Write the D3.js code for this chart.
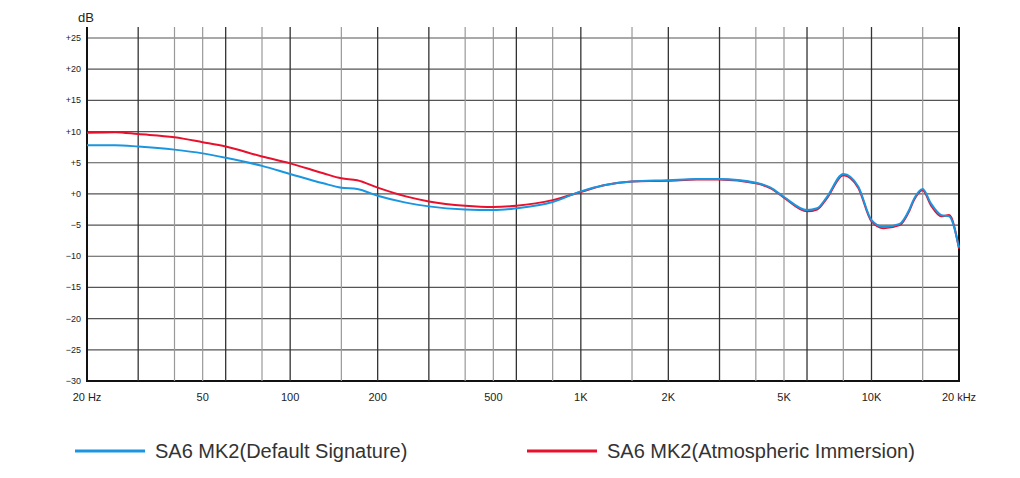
<!DOCTYPE html><html><head><meta charset="utf-8"><script src="https://cdn.jsdelivr.net/npm/d3@7"></script>
<style>body{margin:0;background:#fff}text{font-family:Arial,"Liberation Sans",sans-serif}</style></head><body><svg id="c" width="1020" height="478"></svg>
<script>
const freqs=[20,25,30,40,50,60,80,100,130,150,170,200,250,300,400,500,600,800,1000,1200,1500,2000,2500,3000,4000,4500,5000,6000,6500,7000,8000,9000,10000,11000,12500,13500,14000,15000,16000,17400,18500,20000];
const blue=[7.8,7.8,7.6,7.1,6.5,5.8,4.5,3.2,1.7,1.0,0.8,-0.3,-1.4,-2.0,-2.5,-2.6,-2.3,-1.3,0.4,1.4,2.0,2.2,2.4,2.4,1.8,1.0,-0.5,-2.6,-2.3,-0.6,3.2,1.2,-4.2,-5.3,-4.8,-2.5,-0.8,0.8,-1.5,-3.4,-3.6,-8.6];
const red=[9.8,9.9,9.6,9.1,8.3,7.6,6.0,4.9,3.3,2.5,2.2,1.0,-0.4,-1.2,-1.9,-2.1,-1.9,-1.0,0.3,1.4,2.0,2.1,2.3,2.3,1.7,0.9,-0.6,-2.8,-2.5,-0.8,3.0,1.0,-4.4,-5.5,-5.0,-2.7,-1.0,0.6,-1.8,-3.6,-3.4,-8.8];
const yTicks=[25,20,15,10,5,0,-5,-10,-15,-20,-25,-30];
const xLabels=[[20,"20 Hz"],[50,"50"],[100,"100"],[200,"200"],[500,"500"],[1000,"1K"],[2000,"2K"],[5000,"5K"],[10000,"10K"],[20000,"20 kHz"]];
const darkGrid=[30,60,100,200,300,600,1000,2000,3000,6000,10000];
const lightGrid=[40,50,80,150,400,500,800,1500,4000,5000,8000,15000];
const svg=d3.select("#c");
const x=d3.scaleLog().domain([20,20000]).range([87,959]);
const y=d3.scaleLinear().domain([-30,25]).range([381,38]);
const gridTop=27;
const g=svg.append("g");
yTicks.forEach(t=>{g.append("line").attr("x1",87).attr("x2",959).attr("y1",y(t)).attr("y2",y(t)).attr("stroke",t==-30?"#111":"#555").attr("stroke-width",t==-30?2:1.2);
 g.append("text").attr("x",81).attr("y",y(t)+3).attr("text-anchor","end").attr("font-size",9).attr("fill","#222").text((t>=0?"+":"−")+Math.abs(t));});
lightGrid.forEach(f=>g.append("line").attr("x1",x(f)).attr("x2",x(f)).attr("y1",gridTop).attr("y2",381).attr("stroke","#999").attr("stroke-width",1.2));
darkGrid.forEach(f=>g.append("line").attr("x1",x(f)).attr("x2",x(f)).attr("y1",gridTop).attr("y2",381).attr("stroke","#333").attr("stroke-width",1.3));
[20,20000].forEach(f=>g.append("line").attr("x1",x(f)).attr("x2",x(f)).attr("y1",gridTop).attr("y2",382).attr("stroke","#111").attr("stroke-width",2));
xLabels.forEach(([f,l])=>g.append("text").attr("x",x(f)).attr("y",401).attr("text-anchor","middle").attr("font-size",11).attr("fill","#222").text(l));
g.append("text").attr("x",78).attr("y",22).attr("font-size",13).attr("fill","#222").text("dB");
const line=d3.line().x((d,i)=>x(freqs[i])).y(d=>y(d)).curve(d3.curveMonotoneX);
svg.append("path").attr("d",line(red)).attr("fill","none").attr("stroke","#e8112d").attr("stroke-width",2);
svg.append("path").attr("d",line(blue)).attr("fill","none").attr("stroke","#1a96e0").attr("stroke-width",2);
const leg=[[75,"#1a96e0","SA6 MK2(Default Signature)"],[527,"#e8112d","SA6 MK2(Atmospheric Immersion)"]];
leg.forEach(([lx,c,t])=>{svg.append("line").attr("x1",lx).attr("x2",lx+70).attr("y1",451).attr("y2",451).attr("stroke",c).attr("stroke-width",3);
 svg.append("text").attr("x",lx+80).attr("y",458).attr("font-size",20).attr("fill","#333").attr("font-family","'Noto Sans',sans-serif").text(t);});
</script></body></html>
